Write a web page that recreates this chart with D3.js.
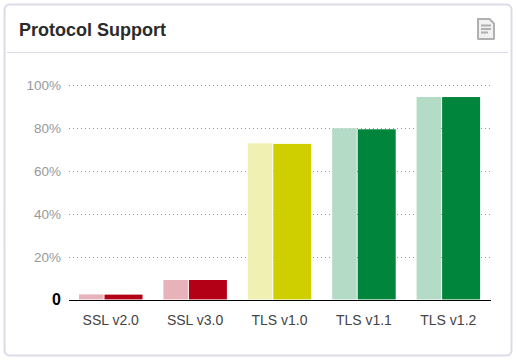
<!DOCTYPE html>
<html><head><meta charset="utf-8">
<script src="https://cdn.jsdelivr.net/npm/d3@7"></script>
<style>html,body{margin:0;padding:0;background:#fff}svg{display:block}text{font-family:"Liberation Sans",Arial,sans-serif}</style>
</head><body><div id="c"></div>
<script>
const categories = ["SSL v2.0","SSL v3.0","TLS v1.0","TLS v1.1","TLS v1.2"];
const lightValues = [2.6,9.3,72.9,79.9,94.4];
const darkValues = [2.5,9.3,72.6,79.4,94.4];
const lightColors = ["#e8b2ba","#e8b2ba","#f0f0b2","#b3dbc6","#b3dbc6"];
const darkColors = ["#b30017","#b30017","#cfcf00","#00853c","#00853c"];
const yTicks = [20,40,60,80,100];
const title = "Protocol Support";

const W=516,H=361;
const svg=d3.select("#c").append("svg").attr("width",W).attr("height",H);
svg.append("rect").attr("x",4.5).attr("y",4.5).attr("width",507).attr("height",351).attr("rx",5)
  .attr("fill","#fff").attr("stroke","#dcdbe8").attr("stroke-width",2);
svg.append("line").attr("x1",7).attr("x2",508).attr("y1",52.5).attr("y2",52.5).attr("stroke","#dcdbe8").attr("stroke-width",1);
svg.append("text").attr("x",19).attr("y",36).attr("font-size",18).attr("font-weight",700).attr("fill","#2b2b2b").text(title);

const icon=svg.append("g").attr("transform","translate(477,18)");
icon.append("path").attr("d","M1,1H12.5L17,5.5V20.5a.5.5 0 0 1-.5.5H1.5a.5.5 0 0 1-.5-.5Z").attr("fill","#f1f1f1").attr("stroke","#b0b0b0").attr("stroke-width",2);
icon.append("path").attr("d","M4,7.5H14M4,11H14M4,14.5H11").attr("stroke","#b0b0b0").attr("stroke-width",1.8).attr("fill","none");

const x=d3.scaleBand().domain(categories).range([69,491]);
const y=d3.scaleLinear().domain([0,100]).range([300,85]);

const grid=svg.append("g");
grid.selectAll("line").data(yTicks).join("line")
  .attr("x1",69).attr("x2",491).attr("y1",d=>Math.round(y(d))+.5).attr("y2",d=>Math.round(y(d))+.5)
  .attr("stroke","#999").attr("stroke-width",1).attr("stroke-dasharray","1 3");

const lw=24.5,dw=38,off=10;
svg.append("g").selectAll("rect").data(categories).join("rect")
  .attr("x",d=>x(d)+off).attr("width",lw)
  .attr("y",(d,i)=>y(lightValues[i])).attr("height",(d,i)=>299.4-y(lightValues[i]))
  .attr("fill",(d,i)=>lightColors[i]);
svg.append("g").selectAll("rect").data(categories).join("rect")
  .attr("x",d=>x(d)+off+lw+1).attr("width",dw)
  .attr("y",(d,i)=>y(darkValues[i])).attr("height",(d,i)=>299.4-y(darkValues[i]))
  .attr("fill",(d,i)=>darkColors[i]);

svg.append("line").attr("x1",69).attr("x2",491).attr("y1",300.5).attr("y2",300.5).attr("stroke","#000").attr("stroke-width",1);

svg.append("g").selectAll("text").data(yTicks).join("text")
  .attr("x",61).attr("y",d=>y(d)+5).attr("text-anchor","end").attr("font-size",13.5).attr("fill","#999").text(d=>d+"%");
svg.append("text").attr("x",61).attr("y",304.5).attr("text-anchor","end").attr("font-size",16).attr("font-weight",700).attr("fill","#000").text("0");

svg.append("g").selectAll("text").data(categories).join("text")
  .attr("x",d=>x(d)+x.bandwidth()/2-.5).attr("y",325).attr("text-anchor","middle").attr("font-size",14).attr("fill","#444").text(d=>d);
</script></body></html>
